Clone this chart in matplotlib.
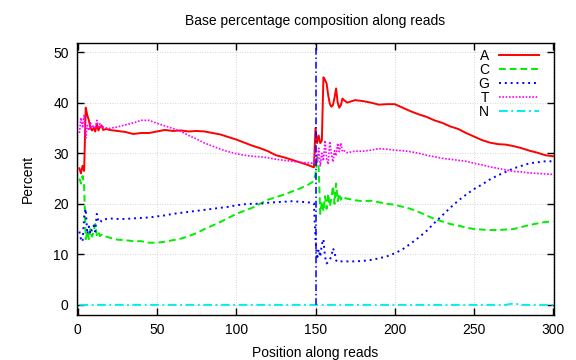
import matplotlib
matplotlib.use("Agg")
import matplotlib.pyplot as plt

plt.rcParams['font.family'] = ['Liberation Sans', 'DejaVu Sans']

positions = [1, 2, 3, 4, 5, 6, 7, 8, 9, 10, 11, 12, 13, 14, 15, 16, 18, 20,
             25, 30, 35, 40, 45, 50, 55, 60, 65, 70, 75, 80, 85, 90, 95, 100,
             105, 110, 115, 120, 125, 130, 135, 140, 145, 149,
             150, 151, 152, 153, 154, 155, 156, 157, 158, 159, 160, 161, 162,
             163, 164, 165, 166, 167, 168, 170,
             175, 180, 185, 190, 195, 200, 205, 210, 215, 220, 225, 230, 235,
             240, 245, 250, 255, 260, 265, 270, 275, 280, 285, 290, 295, 300]

pct_A = [27, 26, 27.5, 26.5, 39, 37.5, 36.5, 35, 34.5, 35, 34.3, 35.8, 34.5, 35.2, 35.5, 34.6, 34.8, 34.6,
         34.4, 34.2, 33.8, 34.0, 34.0, 34.3, 34.6, 34.4, 34.5, 34.3, 34.4, 34.3, 34.0, 33.7, 33.2, 32.7,
         32.1, 31.5, 31.0, 30.4, 29.6, 29.2, 28.7, 28.2, 27.7, 27.2,
         35, 32, 33.5, 32, 32.5, 45, 44.5, 43.8, 41.5, 39.8, 39.2, 39.5, 41,
         42.8, 40, 39, 39.5, 40.8, 40.5, 40,
         40.5, 40.3, 40, 39.6, 39.7, 39.7, 39, 38.3, 37.7, 37.2, 36.5, 36, 35.3,
         34.8, 34, 33.3, 32.6, 32.1, 31.8, 31.7, 31.4, 31, 30.5, 30.1, 29.6, 29.4]

pct_C = [25, 24, 25.5, 23.5, 13, 14.5, 13, 15, 13.5, 14.5, 16, 13.8, 14.5, 13.6, 13.9, 13.6, 13.5, 13.3,
         12.9, 12.8, 12.6, 12.6, 12.3, 12.3, 12.5, 12.8, 13.1, 13.6, 14.2, 15.0, 15.7, 16.4, 17.2, 18.0,
         18.6, 19.2, 20.0, 20.8, 21.3, 21.8, 22.4, 23.0, 23.7, 24.5,
         26, 29.5, 27, 18, 20.5, 18.5, 21.5, 19, 22, 19.5, 21, 23.5, 20,
         24, 20.5, 22, 20.8, 21.5, 21.2, 21,
         20.7, 20.5, 20.6, 20.3, 20.0, 19.8, 19.4, 19.0, 18.4, 17.7, 17.0, 16.5, 16.0,
         15.7, 15.3, 15.0, 14.9, 14.8, 14.8, 14.9, 15.0, 15.4, 15.8, 16.1, 16.4, 16.5]

pct_G = [14.5, 13, 12.5, 17.5, 19, 14, 15.5, 14, 15, 15.7, 14.5, 18, 16.5, 16.8, 16.5, 16.8, 17, 17.1,
         17.0, 17.0, 17.1, 17.2, 17.3, 17.5, 17.7, 18.0, 18.2, 18.4, 18.6, 18.8, 19.0, 19.2, 19.4, 19.7,
         19.9, 20.0, 20.0, 20.2, 20.3, 20.4, 20.5, 20.4, 20.3, 20.1,
         13, 9, 11, 9.5, 12, 13, 9.5, 8.2, 8.5, 9, 9.5, 11.2, 10.5,
         8.8, 8.5, 8.5, 8.6, 8.6, 8.6, 8.6,
         8.6, 8.7, 8.9, 9.2, 9.6, 10.2, 11.0, 12.1, 13.3, 14.6, 16.2, 17.7, 19.2,
         20.6, 21.8, 22.9, 23.8, 24.8, 25.6, 26.3, 27.0, 27.5, 28.0, 28.2, 28.4, 28.4]

pct_T = [34, 37, 35, 37.5, 33, 35.5, 34.5, 36, 35, 35.5, 34.8, 36.5, 35.2, 35.8, 35, 35.2, 35, 34.9,
         35.2, 35.6, 36.0, 36.5, 36.5, 35.9, 35.4, 34.9, 34.3, 33.5, 32.8, 32.0, 31.4, 30.8, 30.3, 29.9,
         29.6, 29.4, 29.3, 29.1, 28.8, 28.6, 28.4, 28.2, 28.1, 28.0,
         30.5, 28, 31, 27.5, 30, 28.5, 32.5, 29, 27.8, 32.3, 30, 28.3, 30.5,
         29.5, 32, 30.3, 32, 30.3, 30.5, 30.1,
         30.4, 30.4, 30.6, 30.9, 30.8, 30.6, 30.5, 30.3, 30.0, 29.6, 29.3, 29.0, 28.8,
         28.6, 28.4, 28.0, 27.7, 27.3, 27.0, 26.7, 26.4, 26.3, 26.1, 26.0, 25.9, 25.8]

pct_N = [0, 0, 0, 0, 0, 0, 0, 0, 0, 0, 0, 0, 0, 0, 0, 0, 0, 0,
         0, 0, 0, 0, 0, 0, 0, 0, 0, 0, 0, 0, 0, 0, 0, 0,
         0, 0, 0, 0, 0, 0, 0, 0, 0, 0,
         0, 0, 0, 0, 0, 0, 0, 0, 0, 0, 0, 0, 0,
         0, 0, 0, 0, 0, 0, 0,
         0, 0, 0, 0, 0, 0, 0, 0, 0, 0, 0, 0, 0,
         0, 0, 0, 0, 0, 0, 0, 0.3, 0, 0, 0, 0, 0]

read_boundary = 150

fig = plt.figure(figsize=(5.76, 3.6), dpi=100)
ax = fig.add_axes([0.1337, 0.125, 0.8281, 0.7556])

ax.plot(positions, pct_A, color='#ff0000', lw=1.4, ls='-', label='A')
ax.plot(positions, pct_C, color='#00ee00', lw=1.4, ls=(0, (3.5, 2)), label='C')
ax.plot(positions, pct_G, color='#0000ff', lw=1.4, ls=(0, (1.0, 2.0)), label='G')
ax.plot(positions, pct_T, color='#ff00ff', lw=1.2, ls=(0, (1, 1.0)), label='T')
ax.plot(positions, pct_N, color='#00eeee', lw=1.4, ls=(0, (4.5, 1.8, 1, 1.8)), label='N')
ax.plot([read_boundary, read_boundary], [0, 52], color='#0000ff', lw=1.1,
        ls=(0, (4.5, 1.8, 1, 1.8)))

ax.set_xlim(-0.5, 300.5)
ax.set_ylim(-2, 51.8)
ax.set_xticks([0, 50, 100, 150, 200, 250, 300])
ax.set_yticks([0, 10, 20, 30, 40, 50])
ax.tick_params(direction='in', length=5, width=1, top=True, right=True,
               labelsize=10, pad=6)
ax.grid(True, color='#c8c8c8', ls=(0, (1, 2)), lw=0.6)
for s in ax.spines.values():
    s.set_linewidth(1.0)

ax.set_title('Base percentage composition along reads', fontsize=10, pad=13)
ax.set_xlabel('Position along reads', fontsize=10, labelpad=6)
ax.set_ylabel('Percent', fontsize=10, labelpad=13)

ax.legend(loc='upper right', bbox_to_anchor=(0.974, 0.988), frameon=False,
          markerfirst=False, fontsize=10, handlelength=2.85, labelspacing=0.0,
          handletextpad=0.75, borderaxespad=0.0, borderpad=0.2)

fig.savefig('out.png', dpi=100)
